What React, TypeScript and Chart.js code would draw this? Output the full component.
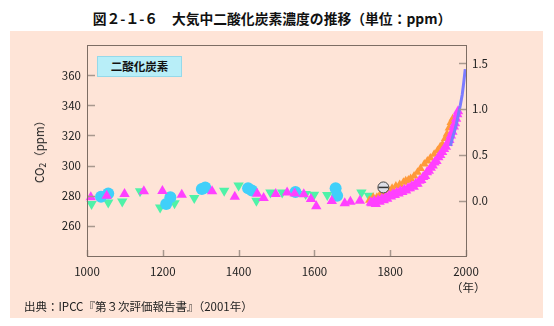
import React, { useEffect, useRef } from "react";
import { Chart, registerables } from "chart.js";

Chart.register(...registerables);

// ---- Data ----
const xTicks = [1000, 1200, 1400, 1600, 1800, 2000];
const leftTicks = [260, 280, 300, 320, 340, 360];
const rightTicks = [0, 0.5, 1.0, 1.5];

// cyan circles
const cyanYears = [1037, 1056, 1303, 1312, 1209, 1220, 1425, 1435, 1550, 1656, 1660];
const cyanPpm = [279.3, 281.5, 284.5, 285.5, 274.5, 279, 285, 283.5, 282.5, 285, 280];

// green down-triangles
const greenYears = [1012, 1056, 1093, 1140, 1193, 1231, 1283, 1362, 1400, 1447, 1484, 1515, 1577, 1599, 1634, 1724, 1744];
const greenPpm = [274.5, 275.5, 276.2, 283, 272.2, 275, 278.5, 283.3, 286.7, 276.7, 282.2, 282.2, 281.1, 280.7, 280.5, 282.2, 280];

// magenta up-triangles (early + dense recent)
const magentaYears = [1010, 1052, 1099, 1150, 1199, 1250, 1330, 1390, 1449, 1466, 1498, 1528, 1548, 1572, 1591, 1605, 1646, 1680, 1695, 1720, 1749,
  1752, 1758, 1762, 1768, 1772, 1778, 1783, 1788, 1792, 1797, 1802, 1807, 1812, 1817, 1822, 1827, 1832, 1837, 1842, 1847, 1852, 1857,
  1862, 1867, 1872, 1877, 1882, 1887, 1892, 1897, 1902, 1907, 1912, 1917, 1922, 1927, 1932, 1937, 1942, 1947, 1952, 1956, 1960, 1964,
  1968, 1971, 1974, 1977, 1979];
const magentaPpm = [279, 280, 281.2, 283, 283.2, 280.7, 283, 279.3, 281.3, 278.5, 281.2, 282.2, 281.5, 281, 277.8, 273, 276.5, 275, 276, 276.7, 275.5,
  275, 276.5, 274.5, 277, 276, 278, 277, 279, 278, 280, 279.5, 281, 280.5, 282, 281.5, 283, 282.5, 284, 283.5, 285, 285, 286.5,
  286, 288, 288, 290, 290.5, 292.5, 293, 295.5, 296.5, 298.5, 300, 302, 303, 305.5, 307, 309, 311, 312.5, 315, 317, 320, 322.5,
  326, 328, 331, 334, 336];

// orange markers
const orangeYears = [1745, 1755, 1765, 1775, 1785, 1795, 1805, 1815, 1825, 1835, 1841, 1848, 1854, 1863, 1872, 1880, 1890, 1898, 1906, 1916,
  1925, 1932, 1938, 1945, 1950, 1955, 1960, 1965];
const orangePpm = [277, 279, 279, 281.5, 282, 284, 285, 286.5, 287.5, 289, 290, 290.5, 291.5, 293, 295.5, 298, 301, 303, 305, 307.5,
  310, 312.5, 314, 318, 321, 325, 328.5, 331];

// blue line (direct atmospheric measurements)
const blueYears = [1959, 1965, 1970, 1975, 1980, 1985, 1990, 1994, 1998];
const bluePpm = [313, 319, 323, 328, 334, 340, 347, 355, 364];

// special marker
const specialYears = [1782];
const specialPpm = [285.5];

const pts = (xs: number[], ys: number[]) => xs.map((x, i) => ({ x, y: ys[i] }));

const FONT = "'Noto Sans CJK JP', 'Noto Sans', sans-serif";

export default function App() {
  const ref = useRef<HTMLCanvasElement | null>(null);

  useEffect(() => {
    if (!ref.current) return;
    const boxPlugin = {
      id: "boxPlugin",
      afterDatasetsDraw(chart: any) {
        const { ctx, chartArea: a, scales } = chart;
        ctx.save();
        ctx.strokeStyle = "#a8988e";
        ctx.lineWidth = 1.5;
        ctx.beginPath();
        leftTicks.forEach((v) => {
          const y = Math.round(scales.y.getPixelForValue(v)) + 0.5;
          ctx.moveTo(a.left, y);
          ctx.lineTo(a.left + 8, y);
        });
        rightTicks.forEach((v) => {
          const y = Math.round(scales.y2.getPixelForValue(v)) + 0.5;
          ctx.moveTo(a.right, y);
          ctx.lineTo(a.right - 7, y);
        });
        xTicks.forEach((v) => {
          const x = Math.round(scales.x.getPixelForValue(v)) + 0.5;
          ctx.moveTo(x, a.bottom);
          ctx.lineTo(x, a.bottom - 6);
        });
        ctx.stroke();
        ctx.strokeStyle = "#7d6d64";
        ctx.lineWidth = 1;
        ctx.strokeRect(Math.round(a.left) + 0.5, Math.round(a.top) + 0.5, Math.round(a.right - a.left), Math.round(a.bottom - a.top));
        ctx.restore();
      },
    };

    const chart = new Chart(ref.current, {
      type: "scatter",
      data: {
        datasets: [
          {
            label: "special-line",
            data: pts(specialYears, specialPpm),
            pointStyle: "line",
            pointRadius: 5,
            borderColor: "#333",
            borderWidth: 1.5,
            order: 0,
          } as any,
          {
            label: "special",
            data: pts(specialYears, specialPpm),
            pointStyle: "circle",
            pointRadius: 5.5,
            backgroundColor: "#dedee6",
            borderColor: "#444",
            borderWidth: 1,
            order: 1,
          },
          {
            label: "blue",
            data: pts(blueYears, bluePpm),
            showLine: true,
            pointRadius: 0,
            borderColor: "#7b7bff",
            borderWidth: 3,
            order: 2,
          } as any,
          {
            label: "magenta",
            data: pts(magentaYears, magentaPpm),
            pointStyle: "triangle",
            pointRadius: 6,
            backgroundColor: "#ff40ff",
            borderWidth: 0,
            order: 3,
          },
          {
            label: "orange",
            data: pts(orangeYears, orangePpm),
            pointStyle: "triangle",
            pointRadius: 5,
            backgroundColor: "#ff9a3a",
            borderWidth: 0,
            order: 4,
          },
          {
            label: "cyan",
            data: pts(cyanYears, cyanPpm),
            pointStyle: "circle",
            pointRadius: 6,
            backgroundColor: "#40d0fa",
            borderWidth: 0,
            order: 5,
          },
          {
            label: "green",
            data: pts(greenYears, greenPpm),
            pointStyle: "triangle",
            rotation: 180,
            pointRadius: 6,
            backgroundColor: "#4ff2a8",
            borderWidth: 0,
            order: 6,
          } as any,
        ],
      },
      options: {
        animation: false,
        responsive: false,
        clip: false as any,
        layout: { padding: { top: 45, left: 0, right: 0, bottom: 0 } },
        plugins: { legend: { display: false }, tooltip: { enabled: false } },
        scales: {
          x: {
            type: "linear",
            position: "bottom",
            min: 1000,
            max: 2000,
            grid: { display: false, drawTicks: false },
            border: { display: false },
            ticks: {
              stepSize: 200,
              padding: 9,
              color: "#222",
              font: { family: FONT, size: 11.5 },
              callback: (v: any) => String(v),
            },
            afterBuildTicks: (axis: any) => {
              axis.ticks = xTicks.map((v) => ({ value: v }));
            },
            afterFit: (s: any) => {
              s.height = 70;
            },
          },
          y: {
            type: "linear",
            position: "left",
            min: 240,
            max: 380,
            grid: { display: false, drawTicks: false },
            border: { display: false },
            ticks: {
              padding: 6,
              color: "#222",
              font: { family: FONT, size: 11.5 },
              callback: (v: any) => String(v),
            },
            afterBuildTicks: (axis: any) => {
              axis.ticks = leftTicks.map((v) => ({ value: v }));
            },
            afterFit: (s: any) => {
              s.width = 87;
            },
          },
          y2: {
            type: "linear",
            position: "right",
            min: -0.604,
            max: 1.7,
            grid: { display: false, drawTicks: false },
            border: { display: false },
            ticks: {
              padding: 6,
              color: "#222",
              font: { family: FONT, size: 11.5 },
              callback: (v: any) => Number(v).toFixed(1),
            },
            afterBuildTicks: (axis: any) => {
              axis.ticks = rightTicks.map((v) => ({ value: v }));
            },
            afterFit: (s: any) => {
              s.width = 88;
            },
          },
        },
      } as any,
      plugins: [boxPlugin],
    });
    return () => chart.destroy();
  }, []);

  return (
    <div style={{ position: "fixed", left: 0, top: 0, width: 554, height: 326, background: "#fff", overflow: "hidden", fontFamily: FONT }}>
      <div style={{ position: "absolute", left: 10, top: 31, width: 533, height: 287, background: "#fee4d7" }} />
      <div
        style={{
          position: "absolute",
          left: 0,
          width: 554,
          top: 10,
          textAlign: "center",
          fontSize: 13.8,
          fontWeight: "bold",
          lineHeight: "16px",
          color: "#111",
          paddingRight: 10,
          boxSizing: "border-box",
          whiteSpace: "nowrap",
        }}
      >
        図２-１-６　大気中二酸化炭素濃度の推移（単位：ppm）
      </div>
      <canvas ref={ref} width={554} height={326} style={{ position: "absolute", left: 0, top: 0, width: 554, height: 326 }} />
      <div
        style={{
          position: "absolute",
          left: 97,
          top: 56,
          width: 85,
          height: 21,
          background: "#b8eef8",
          border: "1px solid #95d9ea",
          boxSizing: "border-box",
          textAlign: "center",
          fontSize: 11.5,
          fontWeight: "bold",
          lineHeight: "19px",
          color: "#111",
        }}
      >
        二酸化炭素
      </div>
      <div
        style={{
          position: "absolute",
          left: 41,
          top: 149,
          transform: "translate(-50%, -50%) rotate(-90deg)",
          fontSize: 11.5,
          whiteSpace: "nowrap",
          color: "#222",
          lineHeight: "13px",
        }}
      >
        CO<sub style={{ fontSize: 8.5, verticalAlign: "-2px" }}>2</sub>（ppm）
      </div>
      <div style={{ position: "absolute", left: 451, top: 279, fontSize: 11.5, lineHeight: "16px", color: "#222", whiteSpace: "nowrap" }}>（年）</div>
      <div style={{ position: "absolute", left: 24, top: 298, fontSize: 11.5, lineHeight: "16px", color: "#222", whiteSpace: "nowrap" }}>
        出典：IPCC『第３次評価報告書』（2001年）
      </div>
    </div>
  );
}
